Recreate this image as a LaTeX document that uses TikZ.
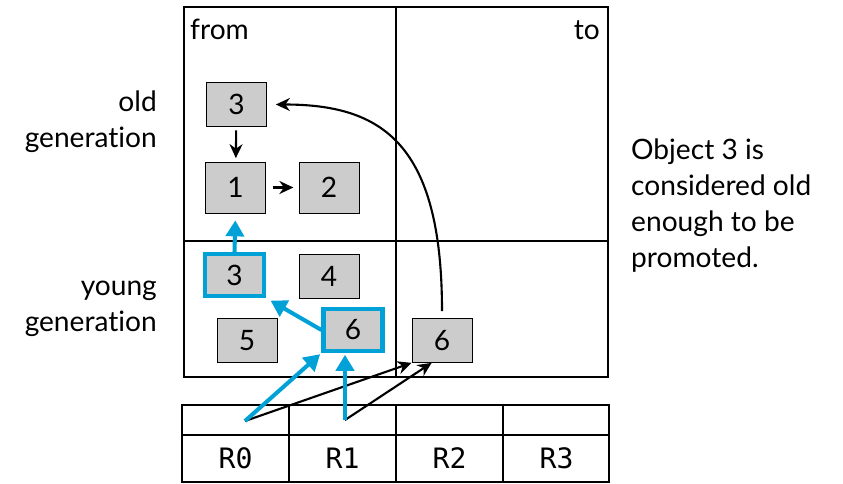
\documentclass[tikz,border=0pt]{standalone}
\usepackage{fontspec}
\setmainfont{Lato}[Ligatures={NoCommon}]
\setmonofont{DejaVu Sans Mono}
\usetikzlibrary{arrows.meta}
\definecolor{gcblue}{RGB}{0,161,214}
\definecolor{objgray}{RGB}{204,204,204}

\begin{document}
\begin{tikzpicture}[font=\fontsize{16}{20.5}\selectfont,
  obj/.style={draw, fill=objgray, minimum width=1.2cm, minimum height=0.88cm, inner sep=0pt},
  live/.style={obj, draw=gcblue, line width=2.3pt},
  ptr/.style={line width=1.2pt, -{Stealth[length=2.8mm,width=2.6mm]}},
  cp/.style={line width=2.3pt, color=gcblue, -{Triangle[length=3.2mm,width=3.6mm]}}]
\useasboundingbox (0,0) rectangle (16.86,9.66);

% heap
\draw [line width=1pt] (3.68,2.12) rectangle (12.16,9.52);
\draw [line width=1pt] (7.92,2.12) -- (7.92,9.52);
\draw [line width=1pt] (3.68,4.84) -- (12.16,4.84);
\node (from) [anchor=base west] at (3.68,8.86) {from};
\node (to) [anchor=base east] at (12.12,8.86) {to};
\node (old) [anchor=east, align=right] at (3.26,7.22) {old\\generation};
\node (young) [anchor=east, align=right] at (3.26,3.48) {young\\generation};
\node (note) [anchor=west, align=left] at (12.5,5.54) {Object 3 is\\considered old\\enough to be\\promoted.};

% objects
\node (o3) [obj] at (4.73,7.57) {3};
\node (o1) [obj, minimum height=1.02cm] at (4.71,5.91) {1};
\node (o2) [obj, minimum height=1.02cm] at (6.58,5.91) {2};
\node (y3) [live, minimum width=1.18cm, minimum height=0.84cm] at (4.69,4.16) {3};
\node (y4) [obj] at (6.58,4.14) {4};
\node (y5) [obj] at (4.94,2.85) {5};
\node (y6) [live, minimum width=1.18cm, minimum height=0.84cm] at (7.06,3.06) {6};
\node (t6) [obj] at (8.84,2.85) {6};

% registers
\draw [thick] (3.64,0.02) rectangle (12.18,1.56);
\draw [thick] (3.64,0.96) -- (12.18,0.96);
\draw [thick] (5.78,0.02) -- (5.78,1.56);
\draw [thick] (7.92,0.02) -- (7.92,1.56);
\draw [thick] (10.06,0.02) -- (10.06,1.56);
\node (reg0) at (4.71,0.49) {\ttfamily R0};
\node (reg1) at (6.85,0.49) {\ttfamily R1};
\node (reg2) at (8.99,0.49) {\ttfamily R2};
\node (reg3) at (11.13,0.49) {\ttfamily R3};
\coordinate (r0) at (4.9,1.24);
\coordinate (r1) at (6.9,1.26);

% pointers
\draw [ptr, shorten <=2pt, shorten >=2pt] (o3) -- (o1);
\draw [ptr, shorten <=4pt, shorten >=3pt] (o1) -- (o2);
\draw [ptr, shorten <=0.14cm, shorten >=0.18cm] (t6.north) .. controls +(0,3.5) and +(2.3,0) .. (o3.east);
\draw [ptr] (r0) -- (t6.south west);
\draw [ptr] (r1) -- ([xshift=0.4cm]t6.south west);
\draw [cp, shorten >=1pt] (r0) -- (y6.south west);
\draw [cp, shorten >=1pt] (r1) -- (r1 |- y6.south);
\draw [cp, shorten >=3pt] (y6.west) -- (y3.south east);
\draw [cp, shorten >=0.14cm] (y3.north) -- (o1.south);
\end{tikzpicture}
\end{document}
